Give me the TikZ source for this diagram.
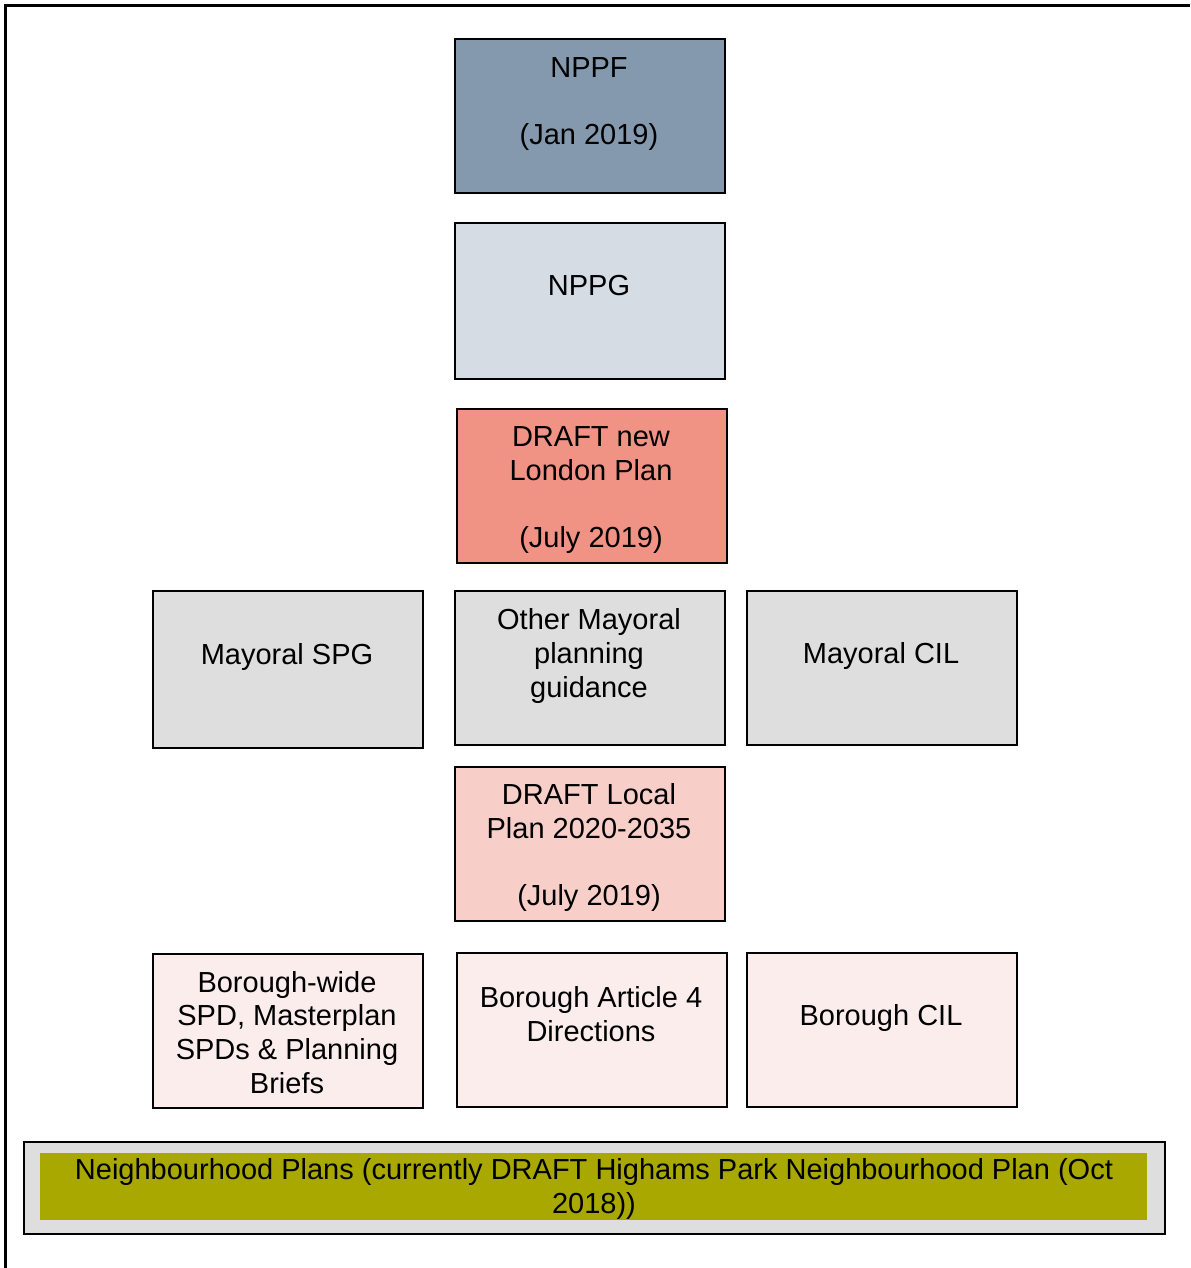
\documentclass[tikz,border=0pt]{standalone}
\usepackage{fontspec}
\setmainfont{Liberation Sans}

\definecolor{slatefill}{HTML}{8499AD}
\definecolor{mistfill}{HTML}{D6DCE4}
\definecolor{salmonfill}{HTML}{F19384}
\definecolor{greyfill}{HTML}{DEDEDE}
\definecolor{pinkfill}{HTML}{F8CFC8}
\definecolor{blushfill}{HTML}{FCEDED}
\definecolor{olivefill}{HTML}{A8A800}

\begin{document}
\begin{tikzpicture}[x=0.5pt, y=-0.5pt,
  planbox/.style={draw=black, line width=1.2pt, anchor=north west,
    minimum width=135pt, minimum height=77pt, inner sep=0pt},
  % texts are placed by the baseline of their last line
  plantext/.style={anchor=base, align=center, inner sep=0pt,
    font=\fontsize{14.5pt}{16.8pt}\selectfont}]
  \useasboundingbox (0,0) rectangle (1190,1268);

  % frame round the page (top and left edge only)
  \draw[line width=1.5pt] (5.5,1268) -- (5.5,5.5) -- (1190,5.5);

  % national level
  \node[planbox, fill=slatefill] (nppf) at (454,38) {};
  \node[plantext] (nppf-text) at (589,144) {NPPF\\[16.5pt](Jan 2019)};
  \node[planbox, fill=mistfill, minimum height=78pt] (nppg) at (454,222) {};
  \node[plantext] (nppg-text) at (589,295) {NPPG};

  % London level
  \node[planbox, fill=salmonfill] (londonplan) at (456,408) {};
  \node[plantext] (londonplan-text) at (591,547) {DRAFT new\\London Plan\\[16.5pt](July 2019)};
  \node[planbox, fill=greyfill, minimum height=78.5pt] (mayoralspg) at (152,590) {};
  \node[plantext] (mayoralspg-text) at (287,664) {Mayoral SPG};
  \node[planbox, fill=greyfill] (othermayoral) at (454,590) {};
  \node[plantext] (othermayoral-text) at (589,697) {Other Mayoral\\planning\\guidance};
  \node[planbox, fill=greyfill] (mayoralcil) at (746,590) {};
  \node[plantext] (mayoralcil-text) at (881,663) {Mayoral CIL};

  % borough level
  \node[planbox, fill=pinkfill] (localplan) at (454,766) {};
  \node[plantext] (localplan-text) at (589,905) {DRAFT Local\\Plan 2020-2035\\[16.5pt](July 2019)};
  \node[planbox, fill=blushfill] (boroughspd) at (152,953) {};
  \node[plantext] (boroughspd-text) at (287,1093) {Borough-wide\\SPD, Masterplan\\SPDs \& Planning\\Briefs};
  \node[planbox, fill=blushfill] (article4) at (456,952) {};
  \node[plantext] (article4-text) at (591,1041) {Borough Article 4\\Directions};
  \node[planbox, fill=blushfill] (boroughcil) at (746,952) {};
  \node[plantext] (boroughcil-text) at (881,1025) {Borough CIL};

  % neighbourhood level
  \node[planbox, fill=greyfill, minimum width=570.5pt, minimum height=46pt] (neighbourhood) at (23,1141) {};
  \node[anchor=north west, fill=olivefill, inner sep=0pt,
    minimum width=553.5pt, minimum height=33.5pt] (neighbourhood-band) at (40,1153) {};
  \node[plantext] (neighbourhood-text) at (594,1213)
    {Neighbourhood Plans (currently DRAFT Highams Park Neighbourhood Plan (Oct\\2018))};
\end{tikzpicture}
\end{document}
